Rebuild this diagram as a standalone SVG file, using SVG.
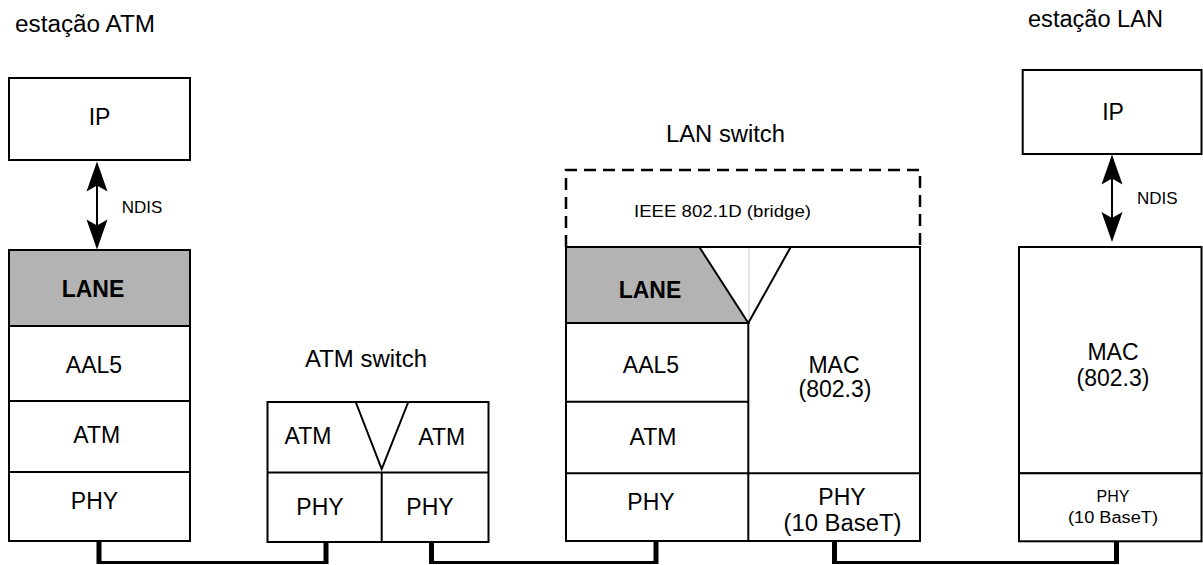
<svg xmlns="http://www.w3.org/2000/svg" width="1203" height="565" viewBox="0 0 1203 565">
<style>
text{font-family:"Liberation Sans",Arial,sans-serif;fill:#000}
.b{fill:#fff;stroke:#000;stroke-width:2}
.g{fill:#b3b3b3;stroke:#000;stroke-width:2}
.ln{fill:none;stroke:#000;stroke-width:2}
.L{font-size:23px;text-anchor:middle}
.bold{font-weight:bold}
.s{font-size:17px}
.t{font-size:23px}
.w{fill:none;stroke:#000;stroke-width:3}
.wv{fill:none;stroke:#000;stroke-width:5}
.dash{fill:none;stroke:#000;stroke-width:2.5;stroke-dasharray:12 7}
</style>
<defs>
<path id="headUp" d="M0,0 L-10.5,30 L0,24 L10.5,30 Z" fill="#000"/>
</defs>

<g id="atm-station">
<text class="t" x="15" y="32" textLength="140" lengthAdjust="spacingAndGlyphs">estação ATM</text>
<g id="atm-ip"><rect class="b" x="9" y="78" width="181" height="82"/><text class="L" x="99.5" y="125">IP</text></g>
<g id="atm-lane"><rect class="g" x="9" y="250" width="181" height="76"/><text class="L bold" x="93" y="297">LANE</text></g>
<g id="atm-aal5"><rect class="b" x="9" y="326" width="181" height="75"/><text class="L" x="94" y="373">AAL5</text></g>
<g id="atm-atm"><rect class="b" x="9" y="401" width="181" height="71"/><text class="L" x="96.7" y="443">ATM</text></g>
<g id="atm-phy"><rect class="b" x="9" y="472" width="181" height="69"/><text class="L" x="94.5" y="509">PHY</text></g>
<text class="s" x="121.7" y="212.7">NDIS</text>
</g>

<g id="atm-switch">
<text class="t" x="305" y="367" textLength="122" lengthAdjust="spacingAndGlyphs">ATM switch</text>
<rect class="b" x="267.5" y="402" width="221" height="140"/>
<line class="ln" x1="267.5" y1="472.5" x2="488.5" y2="472.5"/>
<line class="ln" x1="381.7" y1="472.5" x2="381.7" y2="542"/>
<polyline class="ln" points="355.7,402 381.7,469 408.3,402"/>
<text class="L" x="308" y="443.5">ATM</text>
<text class="L" x="441.7" y="445">ATM</text>
<text class="L" x="320" y="515">PHY</text>
<text class="L" x="430" y="515">PHY</text>
</g>

<g id="lan-switch">
<text class="t" x="666" y="141.7" textLength="119" lengthAdjust="spacingAndGlyphs">LAN switch</text>
<path class="dash" d="M566,247 V170 H920 V247"/>
<text class="s" x="634" y="217" textLength="177" lengthAdjust="spacingAndGlyphs">IEEE 802.1D (bridge)</text>
<rect class="b" x="566" y="247" width="354" height="294"/>
<polygon class="g" points="566,247 699.3,247 748.3,323 566,323"/>
<line x1="749" y1="248" x2="749" y2="322" stroke="#cccccc" stroke-width="1"/>
<line class="ln" x1="748.3" y1="323" x2="790.7" y2="247"/>
<line class="ln" x1="748.3" y1="323" x2="748.3" y2="541"/>
<line class="ln" x1="566" y1="401.7" x2="748.3" y2="401.7"/>
<line class="ln" x1="566" y1="473.3" x2="920" y2="473.3"/>
<text class="L bold" x="650" y="298.3">LANE</text>
<text class="L" x="651" y="373">AAL5</text>
<text class="L" x="653" y="445">ATM</text>
<text class="L" x="651" y="510">PHY</text>
<text class="L" x="834" y="373">MAC</text>
<text class="L" x="835" y="397">(802.3)</text>
<text class="L" x="842" y="505">PHY</text>
<text class="L" x="842.5" y="531" textLength="118" lengthAdjust="spacingAndGlyphs">(10 BaseT)</text>
</g>

<g id="lan-station">
<text class="t" x="1028" y="27" textLength="135" lengthAdjust="spacingAndGlyphs">estação LAN</text>
<g id="lan-ip"><rect class="b" x="1022.7" y="70" width="178.8" height="84"/><text class="L" x="1113" y="120">IP</text></g>
<g id="lan-mac"><rect class="b" x="1019" y="247" width="182.5" height="226.3"/><text class="L" x="1113" y="360">MAC</text><text class="L" x="1113" y="386">(802.3)</text></g>
<g id="lan-phy"><rect class="b" x="1019" y="473.3" width="182.5" height="68"/><text class="L" x="1113" y="502" style="font-size:16px">PHY</text><text class="L" x="1113" y="523" style="font-size:16px" textLength="90" lengthAdjust="spacingAndGlyphs">(10 BaseT)</text></g>
<text class="s" x="1137" y="204">NDIS</text>
</g>

<g id="connectors">
<line x1="97" y1="175" x2="97" y2="237" stroke="#000" stroke-width="2"/>
<use href="#headUp" x="97" y="161.5"/>
<use href="#headUp" transform="translate(97,249.5) scale(1,-1)"/>
<line x1="1112" y1="168" x2="1112" y2="228" stroke="#000" stroke-width="2"/>
<use href="#headUp" x="1112" y="154.5"/>
<use href="#headUp" transform="translate(1112,242) scale(1,-1)"/>
<path class="w" d="M99,562.5 H326.5 M431.5,562.5 H656 M834.5,562.5 H1117"/>
<path class="wv" d="M99,541 V564 M326,542 V564 M431.5,542 V564 M656,541 V564 M834.5,541 V564 M1116.5,541 V564"/>
</g>
</svg>
